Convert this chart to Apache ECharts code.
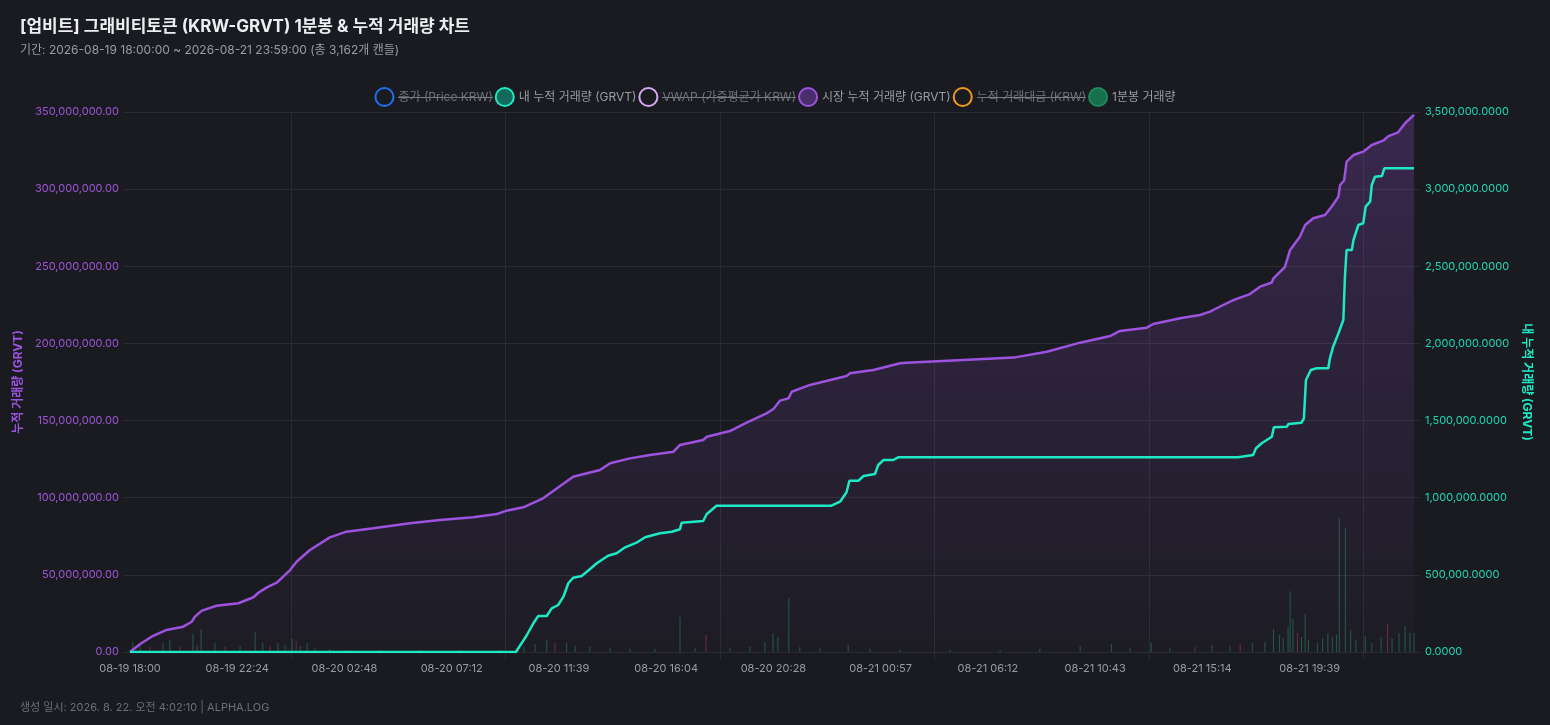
<!DOCTYPE html>
<html lang="ko">
<head>
<meta charset="utf-8">
<title>GRVT 1분봉 & 누적 거래량</title>
<script src="https://cdn.jsdelivr.net/npm/echarts@6/dist/echarts.min.js"></script>
<style>
  html, body { margin: 0; padding: 0; background: #1a1b20; }
  #main { width: 1550px; height: 725px; }
</style>
</head>
<body>
<div id="main"></div>
<script>
// x축: 캔들 인덱스 (0 ~ 3161), 라벨은 264개 간격
var tickLabels = ['08-19 18:00', '08-19 22:24', '08-20 02:48', '08-20 07:12', '08-20 11:39', '08-20 16:04',
    '08-20 20:28', '08-21 00:57', '08-21 06:12', '08-21 10:43', '08-21 15:14', '08-21 19:39'];
var labelIdx = [0, 264, 528, 792, 1056, 1320, 1584, 1848, 2112, 2376, 2640, 2904];
var gridIdx = [396, 924, 1452, 1980, 2508, 3036];
var lastIdx = 3161;

// 시장 누적 거래량 (GRVT)
var marketIdx = [0, 25, 53, 90, 131, 152, 160, 177, 213, 267, 304, 316, 337, 361, 377, 394, 410, 443, 492, 533,
    599, 689, 763, 845, 903, 927, 968, 1017, 1059, 1091, 1157, 1182, 1231, 1280, 1338, 1354, 1411, 1420, 1477,
    1518, 1567, 1584, 1600, 1621, 1629, 1674, 1764, 1772, 1830, 1896, 1912, 2051, 2175, 2257, 2339, 2413, 2437,
    2503, 2519, 2585, 2634, 2659, 2675, 2716, 2757, 2782, 2811, 2815, 2843, 2856, 2880, 2893, 2913, 2942, 2958,
    2975, 2979, 2989, 2995, 3012, 3036, 3057, 3085, 3098, 3122, 3139, 3161];
var marketVol = [0, 5.2, 9.9, 14.3, 16.4, 19.6, 22.9, 26.8, 30.0, 31.6, 35.5, 38.4, 41.9, 44.9, 48.8, 53.1, 58.5,
    66.1, 74.3, 78.0, 80.2, 83.4, 85.6, 87.3, 89.4, 91.6, 93.8, 99.6, 107.6, 113.6, 118.0, 122.3, 125.5, 127.7,
    129.8, 134.2, 137.4, 139.5, 143.2, 148.6, 154.7, 157.5, 162.9, 164.4, 168.7, 173.1, 178.9, 180.6, 182.8,
    187.1, 187.5, 189.3, 190.8, 194.6, 200.5, 204.8, 208.1, 210.2, 212.6, 216.3, 218.4, 220.6, 222.8, 228.1,
    232.0, 236.8, 239.5, 242.2, 249.5, 260.6, 269.2, 276.8, 281.1, 283.2, 288.6, 295.1, 302.7, 305.6, 317.8,
    322.1, 324.3, 328.6, 331.4, 334.4, 336.8, 342.7, 348.1]; // 백만 GRVT

// 내 누적 거래량 (GRVT)
var myIdx = [0, 950, 964, 977, 993, 1005, 1026, 1038, 1054, 1067, 1079, 1091, 1112, 1132, 1149, 1177, 1198, 1219,
    1247, 1268, 1305, 1334, 1354, 1358, 1411, 1420, 1444, 1727, 1748, 1764, 1771, 1793, 1806, 1834, 1842, 1855,
    1879, 1891, 2728, 2765, 2772, 2786, 2811, 2816, 2848, 2852, 2884, 2890, 2895, 2907, 2921, 2950, 2954, 2962,
    2975, 2987, 2991, 2995, 3008, 3012, 3024, 3036, 3042, 3053, 3057, 3065, 3082, 3088, 3161];
var myVol = [0, 0, 56400, 110200, 186000, 233300, 233300, 283200, 304600, 358400, 445300, 481600, 492600, 536000,
    574900, 624200, 639700, 678600, 708400, 743400, 769300, 779700, 795300, 838100, 849100, 894400, 948200,
    948200, 974200, 1035100, 1110300, 1110300, 1140700, 1153700, 1212000, 1244400, 1244400, 1261900, 1261900,
    1276800, 1320300, 1352700, 1395500, 1456400, 1460300, 1477800, 1486200, 1514700, 1763000, 1827800, 1838800,
    1838800, 1903600, 1978800, 2065700, 2151800, 2432500, 2605500, 2605500, 2670400, 2767600, 2778600, 2886200,
    2918600, 3026800, 3080700, 3085200, 3135000, 3135000];

// 1분봉 거래량 (눈에 띄는 봉만), 1 = 상승, -1 = 하락
var barIdx = [7, 25, 49, 81, 98, 123, 155, 165, 175, 209, 234, 271, 308, 327, 345, 364, 382, 399, 409, 419, 436,
    455, 492, 542, 615, 714, 812, 911, 970, 997, 1026, 1046, 1075, 1096, 1132, 1182, 1231, 1292, 1354, 1391,
    1418, 1477, 1526, 1563, 1583, 1595, 1622, 1649, 1699, 1768, 1822, 1896, 2019, 2142, 2240, 2339, 2416, 2462,
    2514, 2560, 2622, 2664, 2708, 2733, 2763, 2794, 2815, 2830, 2839, 2851, 2856, 2863, 2874, 2884, 2893, 2901,
    2923, 2936, 2949, 2960, 2970, 2977, 2992, 3005, 3018, 3041, 3057, 3080, 3096, 3107, 3124, 3139, 3151, 3161];
var barVol = [0.96, 0.58, 0.48, 0.86, 1.15, 0.48, 1.73, 0.67, 2.2, 0.86, 0.48, 0.58, 1.92, 0.86, 0.58, 0.86, 0.67,
    1.25, 1.06, 0.58, 0.86, 0.38, 0.29, 0.19, 0.19, 0.19, 0.19, 0.19, 0.48, 0.77, 1.15, 0.86, 0.86, 0.58, 0.48,
    0.38, 0.29, 0.29, 3.36, 0.38, 1.63, 0.38, 0.48, 0.96, 1.82, 1.44, 5.2, 0.48, 0.38, 0.67, 0.29, 0.19, 0.19,
    0.19, 0.29, 0.58, 0.77, 0.38, 0.86, 0.38, 0.48, 0.67, 0.58, 0.77, 0.86, 0.96, 2.2, 1.63, 1.34, 2.4, 5.86,
    3.17, 1.82, 1.44, 3.65, 1.15, 0.86, 1.34, 1.82, 1.44, 1.63, 12.9, 12.0, 2.1, 1.15, 1.54, 0.86, 1.44, 2.7,
    1.34, 1.82, 2.5, 1.82, 1.82]; // 백만 GRVT
var barDir = [1, 1, -1, 1, 1, -1, 1, -1, 1, 1, -1, 1, 1, 1, -1, 1, 1, 1, -1, 1, 1, 1, 1, 1, 1, 1, 1, 1, 1, 1, 1,
    -1, 1, 1, 1, 1, 1, 1, 1, 1, -1, 1, 1, 1, 1, 1, 1, 1, 1, 1, 1, 1, 1, 1, 1, 1, 1, 1, 1, 1, -1, 1, 1, -1, 1, 1,
    1, 1, 1, 1, 1, 1, -1, 1, 1, 1, 1, 1, 1, 1, 1, 1, 1, 1, 1, 1, 1, 1, -1, 1, 1, 1, 1, 1];

var FONT = 'Inter, "Noto Sans CJK KR", "Noto Sans", sans-serif';
var PURPLE = '#9d52e0';
var TEAL = '#1de9c4';
var GRID = '#2a2b32';
var strikeNames = ['종가 (Price KRW)', 'VWAP (가중평균가 KRW)', '누적 거래대금 (KRW)'];

// 숨겨진 항목 취소선용 배경 이미지
function strikeImage(color) {
    var c = document.createElement('canvas');
    c.width = 2;
    c.height = 16;
    var g = c.getContext('2d');
    g.fillStyle = color;
    g.fillRect(0, 8, 2, 1);
    return c;
}

function fmt(v, d) {
    return v.toLocaleString('en-US', { minimumFractionDigits: d, maximumFractionDigits: d });
}

var myChart = echarts.init(document.getElementById('main'));

var option = {
    backgroundColor: '#1a1b20',
    animation: false,
    textStyle: { fontFamily: FONT },
    title: {
        text: '[업비트] 그래비티토큰 (KRW-GRVT) 1분봉 & 누적 거래량 차트',
        subtext: '기간: 2026-08-19 18:00:00 ~ 2026-08-21 23:59:00 (총 3,162개 캔들)',
        left: 15,
        top: 13,
        itemGap: 9,
        textStyle: { color: '#eceef2', fontSize: 17, fontWeight: 'bold', fontFamily: FONT },
        subtextStyle: { color: '#9a9ca4', fontSize: 12, fontFamily: FONT }
    },
    legend: {
        top: 82,
        left: 'center',
        itemWidth: 18,
        itemHeight: 18,
        itemGap: 2,
        icon: 'circle',
        formatter: function (name) {
            return strikeNames.indexOf(name) >= 0 ? '{s|' + name + '}' : '{n|' + name + '}';
        },
        textStyle: {
            fontFamily: FONT,
            fontSize: 12,
            rich: {
                n: { color: '#9a9ca4', fontSize: 12, lineHeight: 16 },
                s: { color: '#70737b', fontSize: 12, lineHeight: 16, backgroundColor: { image: strikeImage('#8a8d95') } }
            }
        },
        data: [
            { name: '종가 (Price KRW)', itemStyle: { color: 'transparent', borderColor: '#1f6ff0', borderWidth: 2 } },
            { name: '내 누적 거래량 (GRVT)', itemStyle: { color: '#136a5c', borderColor: TEAL, borderWidth: 2 } },
            { name: 'VWAP (가중평균가 KRW)', itemStyle: { color: 'transparent', borderColor: '#d9a8f0', borderWidth: 2 } },
            { name: '시장 누적 거래량 (GRVT)', itemStyle: { color: '#4a2e6c', borderColor: PURPLE, borderWidth: 2 } },
            { name: '누적 거래대금 (KRW)', itemStyle: { color: 'transparent', borderColor: '#f39a1c', borderWidth: 2 } },
            { name: '1분봉 거래량', itemStyle: { color: '#176f4b', borderColor: '#1f8a5c', borderWidth: 2 } }
        ]
    },
    grid: { left: 130, right: 136, top: 112, bottom: 73 },
    xAxis: {
        type: 'value',
        min: 0,
        max: lastIdx,
        axisLine: { show: false },
        axisTick: { show: true, length: 8, lineStyle: { color: GRID }, customValues: gridIdx },
        splitLine: { show: true, lineStyle: { color: GRID, width: 1 } },
        axisLabel: {
            color: '#9a9ca4',
            fontSize: 11,
            margin: 11,
            customValues: labelIdx,
            formatter: function (v) {
                var i = labelIdx.indexOf(v);
                return i >= 0 ? tickLabels[i] : '';
            }
        }
    },
    yAxis: [
        {
            type: 'value',
            min: 0,
            max: 350000000,
            interval: 50000000,
            position: 'left',
            name: '누적 거래량 (GRVT)',
            nameLocation: 'middle',
            nameGap: 104,
            nameRotate: 90,
            nameTextStyle: { color: PURPLE, fontSize: 12, fontWeight: 'bold', fontFamily: FONT },
            axisLine: { show: false },
            axisTick: { show: true, length: 7, lineStyle: { color: GRID } },
            splitLine: { show: true, lineStyle: { color: GRID } },
            axisLabel: { color: '#9d55d8', fontSize: 11, margin: 11, formatter: function (v) { return fmt(v, 2); } }
        },
        {
            type: 'value',
            min: 0,
            max: 3500000,
            interval: 500000,
            position: 'right',
            name: '내 누적 거래량 (GRVT)',
            nameLocation: 'middle',
            nameGap: 104,
            nameRotate: -90,
            nameTextStyle: { color: TEAL, fontSize: 12, fontWeight: 'bold', fontFamily: FONT },
            axisLine: { show: false },
            axisTick: { show: true, length: 6, lineStyle: { color: GRID } },
            splitLine: { show: false },
            axisLabel: { color: '#1ed8b6', fontSize: 11, margin: 11, formatter: function (v) { return fmt(v, 4); } }
        },
        {
            type: 'value',
            min: 0,
            max: 52,
            show: false
        }
    ],
    graphic: [{
        type: 'text',
        left: 20,
        top: 702,
        style: {
            text: '생성 일시: 2026. 8. 22. 오전 4:02:10 | ALPHA.LOG',
            fill: '#6c6f77',
            font: '11px ' + FONT
        }
    }],
    series: [
        {
            name: '1분봉 거래량',
            type: 'bar',
            yAxisIndex: 2,
            barWidth: 1,
            z: 1,
            data: barIdx.map(function (x, i) {
                return {
                    value: [x, barVol[i]],
                    itemStyle: { color: barDir[i] > 0 ? 'rgba(38,160,104,0.5)' : 'rgba(214,72,92,0.45)' }
                };
            })
        },
        {
            name: '시장 누적 거래량 (GRVT)',
            type: 'line',
            yAxisIndex: 0,
            showSymbol: false,
            z: 2,
            lineStyle: { color: PURPLE, width: 2.5 },
            itemStyle: { color: PURPLE },
            areaStyle: {
                color: new echarts.graphic.LinearGradient(0, 0, 0, 1, [
                    { offset: 0, color: 'rgba(157,82,224,0.34)' },
                    { offset: 1, color: 'rgba(157,82,224,0.03)' }
                ])
            },
            data: marketIdx.map(function (x, i) { return [x, marketVol[i] * 1000000]; })
        },
        {
            name: '내 누적 거래량 (GRVT)',
            type: 'line',
            yAxisIndex: 1,
            showSymbol: false,
            z: 3,
            lineStyle: { color: TEAL, width: 2.5 },
            itemStyle: { color: TEAL },
            data: myIdx.map(function (x, i) { return [x, myVol[i]]; })
        },
        // 원본 차트에서 숨김 처리된 항목 (범례만 표시)
        { name: '종가 (Price KRW)', type: 'line', yAxisIndex: 0, data: [] },
        { name: 'VWAP (가중평균가 KRW)', type: 'line', yAxisIndex: 0, data: [] },
        { name: '누적 거래대금 (KRW)', type: 'line', yAxisIndex: 0, data: [] }
    ]
};

myChart.setOption(option);

window.addEventListener('resize', function () {
    myChart.resize();
});
</script>
</body>
</html>
